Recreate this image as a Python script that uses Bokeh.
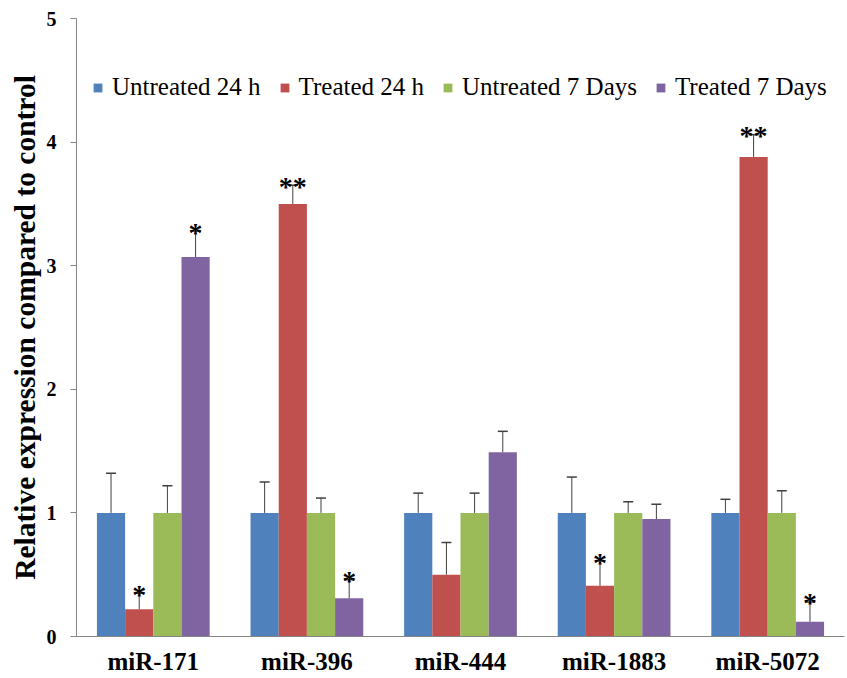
from bokeh.plotting import figure
from bokeh.models import ColumnDataSource, FactorRange, Whisker, TeeHead, FixedTicker, Legend, LegendItem
from bokeh.transform import dodge
from bokeh.core.properties import value
from bokeh.embed import file_html
from bokeh.resources import INLINE

categories = ["miR-171", "miR-396", "miR-444", "miR-1883", "miR-5072"]
series_names = ["Untreated 24 h", "Treated 24 h", "Untreated 7 Days", "Treated 7 Days"]
colors = ["#4F81BD", "#C0504D", "#9BBB59", "#8064A2"]

untreated_24h = [1.00, 1.00, 1.00, 1.00, 1.00]
treated_24h = [0.22, 3.50, 0.50, 0.41, 3.88]
untreated_7d = [1.00, 1.00, 1.00, 1.00, 1.00]
treated_7d = [3.07, 0.31, 1.49, 0.95, 0.12]

err_untreated_24h = [0.32, 0.25, 0.16, 0.29, 0.11]
err_treated_24h = [0.13, 0.15, 0.26, 0.20, 0.18]
err_untreated_7d = [0.22, 0.12, 0.16, 0.09, 0.18]
err_treated_7d = [0.21, 0.15, 0.17, 0.12, 0.16]

sig_untreated_24h = ["", "", "", "", ""]
sig_treated_24h = ["*", "**", "", "*", "**"]
sig_untreated_7d = ["", "", "", "", ""]
sig_treated_7d = ["*", "*", "", "", "*"]

y_ticks = [0, 1, 2, 3, 4, 5]

values = [untreated_24h, treated_24h, untreated_7d, treated_7d]
errors = [err_untreated_24h, err_treated_24h, err_untreated_7d, err_treated_7d]
sigs = [sig_untreated_24h, sig_treated_24h, sig_untreated_7d, sig_treated_7d]

bar_w = 0.1835
offsets = [-1.5 * bar_w, -0.5 * bar_w, 0.5 * bar_w, 1.5 * bar_w]

p = figure(
    x_range=FactorRange(factors=categories, range_padding=0),
    y_range=(0, 5),
    width=847, height=678,
    output_backend="svg", toolbar_location=None,
    min_border_left=76, min_border_right=3, min_border_top=18, min_border_bottom=42,
)
p.outline_line_color = None
p.xgrid.visible = False
p.ygrid.visible = False
p.background_fill_color = "white"

serif = "'Liberation Serif', 'Times New Roman', serif"
err_color = "#404040"
legend_items = []
for i in range(4):
    tops = values[i]
    uppers = [v + e for v, e in zip(tops, errors[i])]
    src = ColumnDataSource(dict(cat=categories, top=tops, upper=uppers, sig=sigs[i]))
    r = p.vbar(x=dodge("cat", offsets[i], range=p.x_range), top="top", width=bar_w,
               source=src, fill_color=colors[i], line_color=None)
    legend_items.append(LegendItem(label=series_names[i], renderers=[r]))
    wh = Whisker(base=dodge("cat", offsets[i], range=p.x_range), lower="top", upper="upper",
                 source=src, line_color=err_color, line_width=1,
                 upper_head=TeeHead(size=10, line_color=err_color, line_width=1.5), lower_head=None)
    p.add_layout(wh)
    p.text(x=dodge("cat", offsets[i], range=p.x_range), y="upper", text="sig", source=src,
           text_font=value(serif), text_font_style="bold", text_font_size="28px",
           text_align="center", text_baseline="alphabetic", text_color="black", y_offset=1)

legend = Legend(items=legend_items, orientation="horizontal", location=(16, 535))
legend.label_text_font = serif
legend.label_text_font_size = "25px"
legend.label_text_color = "black"
legend.glyph_width = 11
legend.glyph_height = 11
legend.label_standoff = 9
legend.spacing = 18
legend.padding = 0
legend.margin = 0
legend.border_line_color = None
legend.background_fill_alpha = 0
p.add_layout(legend)

axis_gray = "#868686"
yax = p.yaxis[0]
yax.ticker = FixedTicker(ticks=y_ticks)
yax.axis_line_color = axis_gray
yax.major_tick_line_color = axis_gray
yax.major_tick_out = 6
yax.major_tick_in = 0
yax.minor_tick_line_color = None
yax.major_label_text_font = serif
yax.major_label_text_font_style = "bold"
yax.major_label_text_font_size = "20px"
yax.major_label_text_color = "black"
yax.major_label_standoff = 14
yax.axis_label = "Relative expression compared to control"
yax.axis_label_text_font = serif
yax.axis_label_text_font_style = "bold"
yax.axis_label_text_font_size = "29.5px"
yax.axis_label_text_color = "black"
yax.axis_label_standoff = 3

xax = p.xaxis[0]
xax.axis_line_color = axis_gray
xax.major_tick_line_color = None
xax.minor_tick_line_color = None
xax.major_label_text_font = serif
xax.major_label_text_font_style = "bold"
xax.major_label_text_font_size = "25px"
xax.major_label_text_color = "black"
xax.major_label_standoff = 5

open("out.html", "w").write(file_html(p, INLINE))
